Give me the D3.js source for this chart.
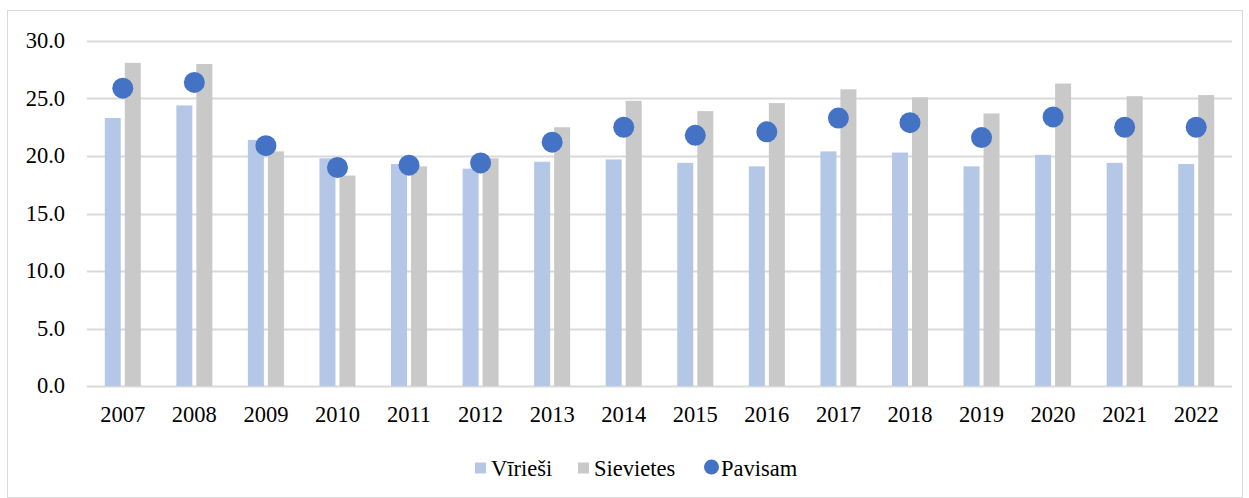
<!DOCTYPE html>
<html>
<head>
<meta charset="utf-8">
<script src="https://cdn.jsdelivr.net/npm/d3@7"></script>
<style>
  body { margin: 0; background: #fff; }
</style>
</head>
<body>
<div id="chart"></div>
<script>
const years = ['2007', '2008', '2009', '2010', '2011', '2012', '2013', '2014',
  '2015', '2016', '2017', '2018', '2019', '2020', '2021', '2022'];
const virviesi = [23.3, 24.4, 21.4, 19.8, 19.3, 18.9, 19.5, 19.7, 19.4, 19.1, 20.4, 20.3, 19.1, 20.1, 19.4, 19.3];
const sievietes = [28.1, 28.0, 20.4, 18.3, 19.1, 19.8, 22.5, 24.8, 23.9, 24.6, 25.8, 25.1, 23.7, 26.3, 25.2, 25.3];
const pavisam = [25.9, 26.4, 20.9, 19.0, 19.2, 19.4, 21.2, 22.5, 21.8, 22.1, 23.3, 22.9, 21.6, 23.4, 22.5, 22.5];
const yTicks = [0, 5, 10, 15, 20, 25, 30];
const seriesNames = ['Vīrieši', 'Sievietes', 'Pavisam'];

const width = 1249;
const height = 498;
const margin = { top: 41, right: 17, bottom: 112, left: 87 };
const innerW = width - margin.left - margin.right;
const innerH = height - margin.top - margin.bottom;
const fontSize = 22.5;
const fontFamily = "'Liberation Serif', 'DejaVu Serif', serif";

const colV = '#B4C7E7';
const colS = '#C9C9C9';
const colP = '#4472C4';

const svg = d3.select('#chart').append('svg')
  .attr('width', width)
  .attr('height', height)
  .style('font-family', fontFamily);

// outer border
svg.append('rect')
  .attr('x', 7.5).attr('y', 10.5)
  .attr('width', width - 14).attr('height', height - 11)
  .attr('fill', 'none')
  .attr('stroke', '#D9D9D9');

const g = svg.append('g')
  .attr('transform', `translate(${margin.left},${margin.top})`);

const x = d3.scaleBand().domain(years).range([0, innerW]);
const y = d3.scaleLinear().domain([0, 30]).range([innerH, 0]);

// gridlines
g.selectAll('.grid')
  .data(yTicks)
  .enter()
  .append('line')
  .attr('x1', 0).attr('x2', innerW)
  .attr('y1', d => Math.round(y(d)) + 0.5)
  .attr('y2', d => Math.round(y(d)) + 0.5)
  .attr('stroke', '#D9D9D9')
  .attr('stroke-width', 2);

// y labels
g.selectAll('.ylab')
  .data(yTicks)
  .enter()
  .append('text')
  .attr('x', -22)
  .attr('y', d => y(d))
  .attr('dy', '0.33em')
  .attr('text-anchor', 'end')
  .style('font-family', fontFamily)
  .attr('font-size', fontSize)
  .text(d => d.toFixed(1));

// x labels
g.selectAll('.xlab')
  .data(years)
  .enter()
  .append('text')
  .attr('x', d => x(d) + x.bandwidth() / 2)
  .attr('y', innerH + 36)
  .attr('text-anchor', 'middle')
  .style('font-family', fontFamily)
  .attr('font-size', fontSize)
  .text(d => d);

const barW = 16;
const gap = 4;

// Vīrieši bars
g.selectAll('.barV')
  .data(years)
  .enter()
  .append('rect')
  .attr('x', d => x(d) + x.bandwidth() / 2 - gap / 2 - barW)
  .attr('y', (d, i) => y(virviesi[i]))
  .attr('width', barW)
  .attr('height', (d, i) => innerH - y(virviesi[i]))
  .attr('fill', colV);

// Sievietes bars
g.selectAll('.barS')
  .data(years)
  .enter()
  .append('rect')
  .attr('x', d => x(d) + x.bandwidth() / 2 + gap / 2)
  .attr('y', (d, i) => y(sievietes[i]))
  .attr('width', barW)
  .attr('height', (d, i) => innerH - y(sievietes[i]))
  .attr('fill', colS);

// Pavisam dots
g.selectAll('.dot')
  .data(years)
  .enter()
  .append('circle')
  .attr('cx', d => x(d) + x.bandwidth() / 2)
  .attr('cy', (d, i) => y(pavisam[i]))
  .attr('r', 10.5)
  .attr('fill', colP);

// legend
const legend = svg.append('g').attr('transform', 'translate(0,468)');
const items = [
  { name: seriesNames[0], color: colV, shape: 'rect', x: 475 },
  { name: seriesNames[1], color: colS, shape: 'rect', x: 578 },
  { name: seriesNames[2], color: colP, shape: 'circle', x: 704 }
];
items.forEach(it => {
  if (it.shape === 'rect') {
    legend.append('rect')
      .attr('x', it.x).attr('y', -5.5)
      .attr('width', 11).attr('height', 11)
      .attr('fill', it.color);
  } else {
    legend.append('circle')
      .attr('cx', it.x + 7.5).attr('cy', -1)
      .attr('r', 7.5)
      .attr('fill', it.color);
  }
  legend.append('text')
    .attr('x', it.x + (it.shape === 'rect' ? 16 : 17))
    .attr('y', 0)
    .attr('dy', '0.35em')
    .style('font-family', fontFamily)
    .attr('font-size', fontSize)
    .text(it.name);
});
</script>
</body>
</html>
